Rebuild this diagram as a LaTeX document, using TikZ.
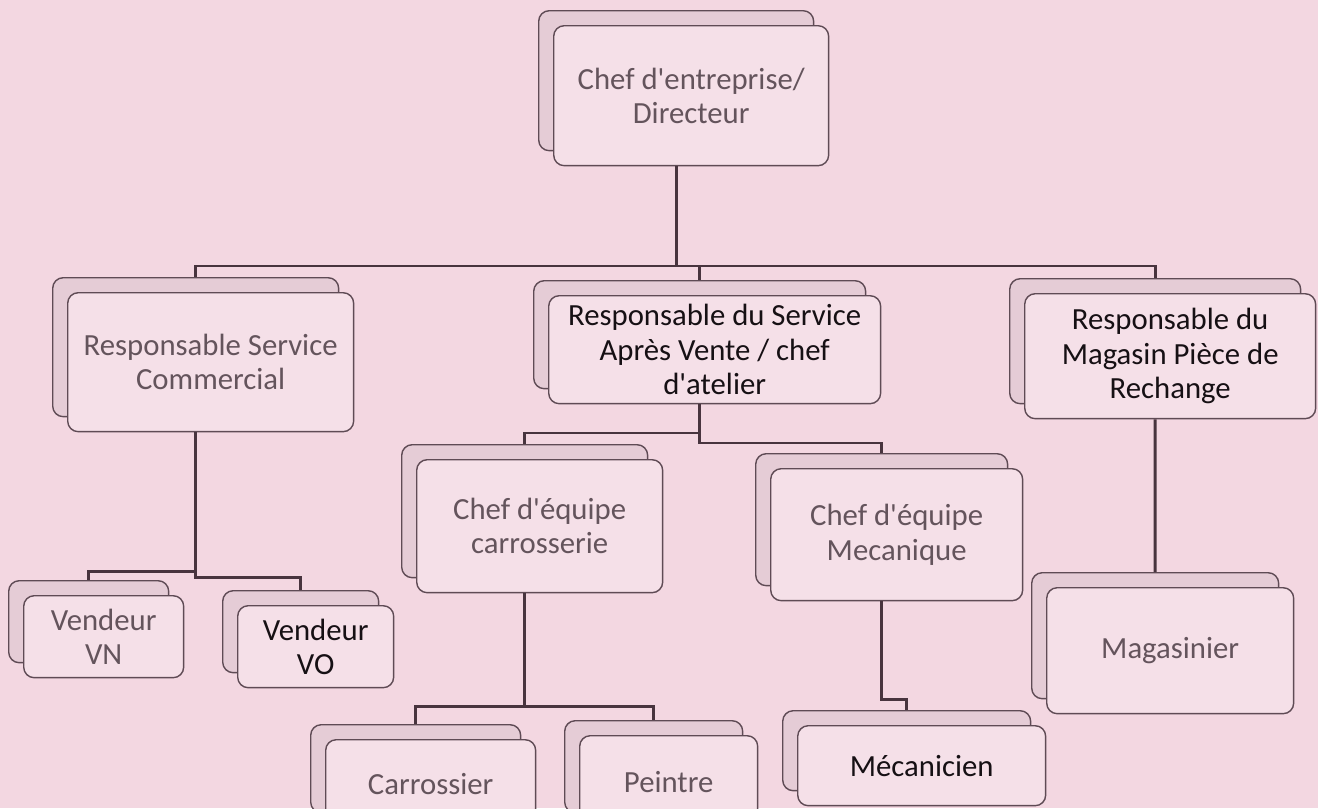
\documentclass[tikz,border=0pt]{standalone}
\usepackage{fontspec}
\setmainfont{Carlito}
\usepackage{xcolor}
\usepackage{tikz}

\definecolor{pagepink}{RGB}{243,215,225}
\definecolor{frontfill}{RGB}{245,224,232}
\definecolor{backfill}{RGB}{229,204,214}
\definecolor{boxline}{RGB}{95,75,85}
\definecolor{linkcol}{RGB}{72,52,62}
\definecolor{greyink}{RGB}{100,84,92}
\definecolor{darkink}{RGB}{22,16,20}

\tikzset{
  backbox/.style={draw=boxline, fill=backfill, line width=0.8pt, rounded corners=6pt, anchor=north west, inner sep=0pt},
  frontbox/.style={draw=boxline, fill=frontfill, line width=0.8pt, rounded corners=6pt, anchor=north west, inner sep=0pt, align=center, font=\fontsize{17.5}{19.5}\selectfont},
  greytext/.style={text=greyink},
  darktext/.style={text=darkink},
  link/.style={draw=linkcol, line width=1.7pt}
}

\begin{document}
\begin{tikzpicture}[x=0.02cm, y=-0.02cm]
\fill[pagepink] (0,0) rectangle (1318,808);
\useasboundingbox (0,0) rectangle (1318,808);
\clip (0,0) rectangle (1318,808);

% level 0
\node[backbox, minimum width=5.50cm, minimum height=2.80cm] (dirB) at (538,10) {};
\node[frontbox, greytext, minimum width=5.50cm, minimum height=2.80cm] (dir) at (553,25) {Chef d\textquotesingle entreprise/\\Directeur};

% level 1
\node[backbox, minimum width=5.72cm, minimum height=2.78cm] (rscB) at (52,277) {};
\node[frontbox, greytext, minimum width=5.72cm, minimum height=2.78cm] (rsc) at (67,292) {Responsable Service\\Commercial};

\node[backbox, minimum width=6.64cm, minimum height=2.16cm] (savB) at (533,280) {};
\node[frontbox, darktext, minimum width=6.64cm, minimum height=2.16cm] (sav) at (548,295) {Responsable du Service\\Après Vente / chef\\d\textquotesingle atelier};

\node[backbox, minimum width=5.82cm, minimum height=2.50cm] (magB) at (1009,278) {};
\node[frontbox, darktext, minimum width=5.82cm, minimum height=2.50cm] (mag) at (1024,293) {Responsable du\\Magasin Pièce de\\Rechange};

% level 2
\node[backbox, minimum width=3.20cm, minimum height=1.64cm] (vnB) at (8,580) {};
\node[frontbox, greytext, minimum width=3.20cm, minimum height=1.64cm] (vn) at (23,595) {Vendeur\\VN};

\node[backbox, minimum width=3.12cm, minimum height=1.64cm] (voB) at (222,590) {};
\node[frontbox, darktext, minimum width=3.12cm, minimum height=1.64cm] (vo) at (237,605) {Vendeur\\VO};

\node[backbox, minimum width=4.92cm, minimum height=2.66cm] (carrB) at (401,444) {};
\node[frontbox, greytext, minimum width=4.92cm, minimum height=2.66cm] (carr) at (416,459) {Chef d\textquotesingle équipe\\carrosserie};

\node[backbox, minimum width=5.04cm, minimum height=2.64cm] (mecaB) at (755,453) {};
\node[frontbox, greytext, minimum width=5.04cm, minimum height=2.64cm] (meca) at (770,468) {Chef d\textquotesingle équipe\\Mecanique};

\node[backbox, minimum width=4.94cm, minimum height=2.52cm] (magrB) at (1031,572) {};
\node[frontbox, greytext, minimum width=4.94cm, minimum height=2.52cm] (magr) at (1046,587) {Magasinier};

% level 3
\node[backbox, minimum width=4.20cm, minimum height=1.76cm] (carsB) at (310,724) {};
\node[frontbox, greytext, minimum width=4.20cm, minimum height=1.76cm] (cars) at (325,739) {Carrossier};

\node[backbox, minimum width=3.56cm, minimum height=1.84cm] (peinB) at (564,720) {};
\node[frontbox, greytext, minimum width=3.56cm, minimum height=1.84cm] (pein) at (579,735) {Peintre};

\node[backbox, minimum width=4.96cm, minimum height=1.60cm] (meciB) at (782,710) {};
\node[frontbox, darktext, minimum width=4.96cm, minimum height=1.60cm] (meci) at (797,725) {Mécanicien};

% bend heights
\coordinate (bus) at (0,266);
\coordinate (jsav1) at (0,433);
\coordinate (jsav2) at (0,443);
\coordinate (jrsc1) at (0,571);
\coordinate (jrsc2) at (0,577);
\coordinate (jcarr) at (0,706);
\coordinate (jmeca) at (0,699);

% connectors
\draw[link] (dirB |- dir.south) -- (dirB |- bus) -| (rscB.north);
\draw[link] (dirB |- bus) -| (savB.north);
\draw[link] (dirB |- bus) -| (magB.north);

\draw[link] (rscB |- rsc.south) -- (rscB |- jrsc1) -| (vnB.north);
\draw[link] (rscB |- jrsc1) -- (rscB |- jrsc2) -| (voB.north);

\draw[link] (savB |- sav.south) -- (savB |- jsav1) -| (carrB.north);
\draw[link] (savB |- jsav1) -- (savB |- jsav2) -| (mecaB.north);

\draw[link] (carrB |- carr.south) -- (carrB |- jcarr) -| (carsB.north);
\draw[link] (carrB |- jcarr) -| (peinB.north);

\draw[link] (mecaB |- meca.south) -- (mecaB |- jmeca) -| (meciB.north);

\draw[link] (magB |- mag.south) -- (magrB.north);

\end{tikzpicture}
\end{document}
